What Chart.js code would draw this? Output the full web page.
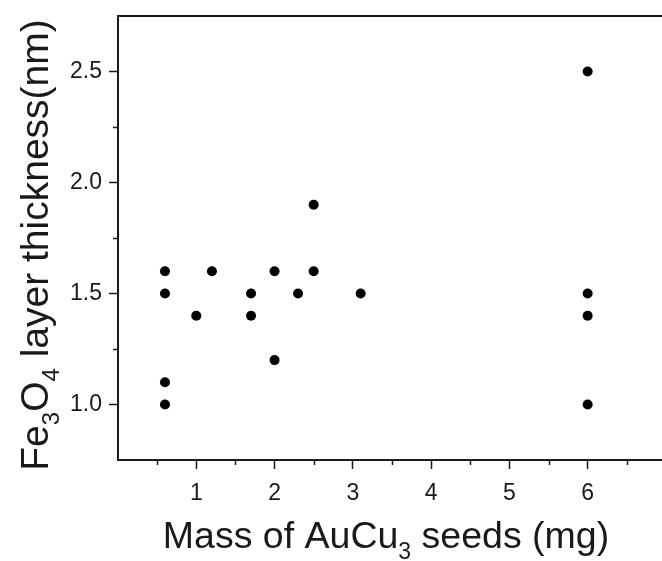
<!DOCTYPE html>
<html>
<head>
<meta charset="utf-8">
<script src="https://cdn.jsdelivr.net/npm/chart.js@4"></script>
<style>
  html, body { margin: 0; padding: 0; background: #fff; overflow: hidden; }
</style>
</head>
<body>
<canvas id="chart" width="662" height="561"></canvas>
<script>
// seed mass (mg) vs. oxide shell thickness (nm)
const seedMass = [0.6, 0.6, 0.6, 0.6, 1.0, 1.2, 1.7, 1.7, 2.0, 2.0, 2.3, 2.5, 2.5, 3.1, 6, 6, 6, 6];
const layerThickness = [1.6, 1.5, 1.1, 1.0, 1.4, 1.6, 1.5, 1.4, 1.6, 1.2, 1.5, 1.9, 1.6, 1.5, 2.5, 1.5, 1.4, 1.0];

const xMajorTicks = [1, 2, 3, 4, 5, 6];
const xMinorTicks = [0.5, 1.5, 2.5, 3.5, 4.5, 5.5, 6.5];
const yMajorTicks = [1.0, 1.5, 2.0, 2.5];
const yMinorTicks = [1.25, 1.75, 2.25];

const xTitle = [{ t: 'Mass of AuCu' }, { t: '3', sub: true }, { t: ' seeds (mg)' }];
const yTitle = [{ t: 'Fe' }, { t: '3', sub: true }, { t: 'O' }, { t: '4', sub: true }, { t: ' layer thickness(nm)' }];

const FONT = '"Liberation Sans", Arial, sans-serif';
const INK = '#1a1a1a';

function drawRich(ctx, parts, size, cx, baseline) {
  const subSize = Math.round(size * 0.62);
  const fontOf = p => (p.sub ? subSize : size) + 'px ' + FONT;
  let total = 0;
  parts.forEach(p => { ctx.font = fontOf(p); total += ctx.measureText(p.t).width; });
  let x = cx - total / 2;
  ctx.textAlign = 'left';
  ctx.textBaseline = 'alphabetic';
  parts.forEach(p => {
    ctx.font = fontOf(p);
    ctx.fillText(p.t, x, baseline + (p.sub ? size * 0.28 : 0));
    x += ctx.measureText(p.t).width;
  });
}

const frameAndTitles = {
  id: 'frameAndTitles',
  afterDraw(chart) {
    const { ctx, chartArea: a, scales: { x, y } } = chart;
    ctx.save();
    // short minor ticks
    ctx.strokeStyle = INK;
    ctx.lineWidth = 1.5;
    ctx.beginPath();
    xMinorTicks.forEach(v => {
      const px = Math.round(x.getPixelForValue(v)) + 0.5;
      ctx.moveTo(px, a.bottom);
      ctx.lineTo(px, a.bottom + 5);
    });
    yMinorTicks.forEach(v => {
      const py = Math.round(y.getPixelForValue(v)) + 0.5;
      ctx.moveTo(a.left, py);
      ctx.lineTo(a.left - 5, py);
    });
    ctx.stroke();
    // top edge of the frame
    ctx.lineWidth = 2;
    ctx.beginPath();
    ctx.moveTo(a.left - 1, a.top);
    ctx.lineTo(a.right, a.top);
    ctx.stroke();
    // axis titles with subscripts
    ctx.fillStyle = INK;
    drawRich(ctx, xTitle, 37.5, 386, 548);
    ctx.translate(48, 245);
    ctx.rotate(-Math.PI / 2);
    drawRich(ctx, yTitle, 39, 0, 0);
    ctx.restore();
  }
};

new Chart(document.getElementById('chart'), {
  type: 'scatter',
  data: {
    datasets: [{
      data: seedMass.map((m, i) => ({ x: m, y: layerThickness[i] })),
      backgroundColor: '#000',
      borderWidth: 0,
      pointRadius: 5,
      pointHoverRadius: 5
    }]
  },
  options: {
    responsive: false,
    animation: false,
    devicePixelRatio: 1,
    layout: { autoPadding: false, padding: { top: 16, right: 0, bottom: 0, left: 0 } },
    plugins: { legend: { display: false }, tooltip: { enabled: false } },
    scales: {
      x: {
        type: 'linear',
        min: 0,
        max: 6.95,
        border: { color: INK, width: 2 },
        grid: { drawOnChartArea: false, tickLength: 9, tickWidth: 1.5, tickColor: INK },
        ticks: {
          color: INK,
          padding: 11,
          font: { family: FONT, size: 23 },
          callback: v => String(v)
        },
        afterBuildTicks: s => { s.ticks = xMajorTicks.map(v => ({ value: v })); },
        afterFit: s => { s.height = 101; s.paddingLeft = 0; s.paddingRight = 0; }
      },
      y: {
        type: 'linear',
        min: 0.75,
        max: 2.75,
        border: { color: INK, width: 2 },
        grid: { drawOnChartArea: false, tickLength: 9, tickWidth: 1.5, tickColor: INK },
        ticks: {
          color: INK,
          padding: 7,
          font: { family: FONT, size: 23 },
          callback: v => v.toFixed(1)
        },
        afterBuildTicks: s => { s.ticks = yMajorTicks.map(v => ({ value: v })); },
        afterFit: s => { s.width = 118; s.paddingTop = 0; s.paddingBottom = 0; }
      }
    }
  },
  plugins: [frameAndTitles]
});
</script>
</body>
</html>
